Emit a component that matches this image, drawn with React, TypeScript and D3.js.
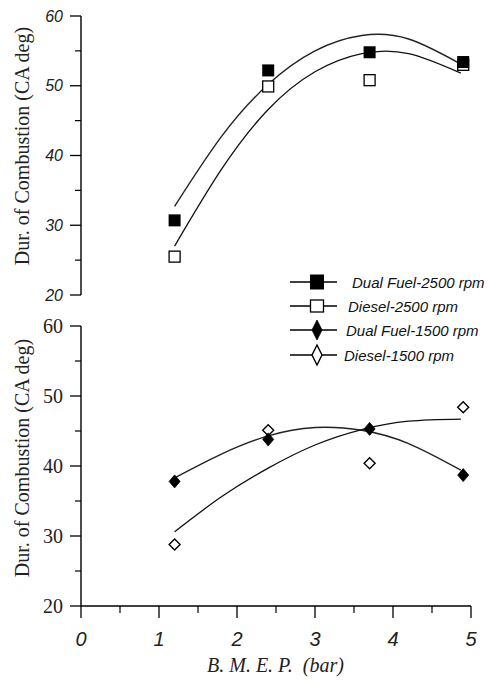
import React from "react";
import * as d3 from "d3";

const bmep = [1.2, 2.4, 3.7, 4.9];
const dualFuel2500 = [30.7, 52.2, 54.8, 53.4];
const diesel2500 = [25.5, 49.9, 50.8, 53.0];
const dualFuel1500 = [37.8, 43.8, 45.3, 38.7];
const diesel1500 = [28.8, 45.1, 40.4, 48.4];

// trend curves
const fitX = [1.2, 1.8, 2.4, 3.0, 3.6, 4.2, 4.87];
const fitDual2500 = [32.7, 42.7, 50.2, 55.0, 57.2, 56.7, 53.1];
const fitDiesel2500 = [27.0, 38.0, 46.6, 52.0, 54.6, 54.6, 51.8];
const fitDual1500 = [38.3, 41.7, 44.3, 45.5, 45.1, 43.2, 39.4];
const fitDiesel1500 = [30.6, 35.6, 39.7, 43.0, 45.2, 46.4, 46.7];

const xTicks = [0, 1, 2, 3, 4, 5];
const xMinor = [0.5, 1.5, 2.5, 3.5, 4.5];
const yTicks = [20, 30, 40, 50, 60];
const yMinor = [25, 35, 45, 55];
const legendLabels = ["Dual Fuel-2500 rpm", "Diesel-2500 rpm", "Dual Fuel-1500 rpm", "Diesel-1500 rpm"];

const W = 490, H = 684;
const SANS = "'Liberation Sans', Arial, sans-serif";
const SERIF = "'Liberation Serif', 'Times New Roman', serif";

const x = d3.scaleLinear().domain([0, 5]).range([81, 471]);
const yTop = d3.scaleLinear().domain([20, 60]).range([295, 16]);
const yBot = d3.scaleLinear().domain([20, 60]).range([606, 326]);

function Square({ cx, cy, s, filled, h }: any) {
  const hh = h ?? s;
  return (
    <rect x={cx - s / 2} y={cy - hh / 2} width={s} height={hh}
      fill={filled ? "#000" : "#fff"} stroke="#000" strokeWidth={filled ? 0 : 1.3} />
  );
}
function Diamond({ cx, cy, w, h, filled }: any) {
  const p = `M${cx},${cy - h / 2}L${cx + w / 2},${cy}L${cx},${cy + h / 2}L${cx - w / 2},${cy}Z`;
  return <path d={p} fill={filled ? "#000" : "#fff"} stroke="#000" strokeWidth={filled ? 0.8 : 1.4} />;
}

function YAxis({ y, font, size, italic }: any) {
  const [r0, r1] = y.range();
  return (
    <g>
      <line x1={81} x2={81} y1={r0} y2={r1} stroke="#000" strokeWidth={1.4} />
      {yTicks.map((t) => (
        <g key={t}>
          <line x1={70} x2={81} y1={y(t)} y2={y(t)} stroke="#000" strokeWidth={1.3} />
          <text x={63} y={y(t)} dy="0.35em" textAnchor="end" fontFamily={font}
            fontSize={size} fontStyle={italic ? "italic" : "normal"} fill="#222">{t}</text>
        </g>
      ))}
      {yMinor.map((t) => (
        <line key={t} x1={75} x2={81} y1={y(t)} y2={y(t)} stroke="#000" strokeWidth={1.2} />
      ))}
    </g>
  );
}

export default function App() {
  const line = (ys: number[], y: any) =>
    d3.line<number>().x((_, i) => x(fitX[i])).y((v) => y(v)).curve(d3.curveNatural)(ys) as string;

  const lx0 = 290, lx1 = 337, lm = 317;
  const legendY = [282, 306, 330, 355];
  const legendTx = [352, 348, 346, 344];

  return (
    <svg width={W} height={H} style={{ position: "absolute", left: 0, top: 0, background: "#fff" }}>
      <rect width={W} height={H} fill="#fff" />
      {/* top panel */}
      <YAxis y={yTop} font={SANS} size={16} italic />
      <text transform={`translate(29,146) rotate(-90)`} textAnchor="middle" fontFamily={SERIF}
        fontSize={20} fill="#222">Dur. of Combustion (CA deg)</text>
      <path d={line(fitDual2500, yTop)} fill="none" stroke="#222" strokeWidth={1.4} />
      <path d={line(fitDiesel2500, yTop)} fill="none" stroke="#111" strokeWidth={1.3} />
      {bmep.map((b, i) => <Square key={"d" + i} cx={x(b)} cy={yTop(diesel2500[i])} s={11} filled={false} />)}
      {bmep.map((b, i) => <Square key={"f" + i} cx={x(b)} cy={yTop(dualFuel2500[i])} s={12} filled />)}

      {/* bottom panel */}
      <YAxis y={yBot} font={SERIF} size={20} italic={false} />
      <text transform={`translate(29,458) rotate(-90)`} textAnchor="middle" fontFamily={SERIF}
        fontSize={20} fill="#222">Dur. of Combustion (CA deg)</text>
      <line x1={81} x2={471} y1={606} y2={606} stroke="#000" strokeWidth={1.4} />
      {xTicks.map((t) => (
        <g key={t}>
          <line x1={x(t)} x2={x(t)} y1={606} y2={618} stroke="#000" strokeWidth={1.3} />
          <text x={x(t)} y={646} textAnchor="middle" fontFamily={SANS} fontSize={20}
            fontStyle="italic" fill="#222">{t}</text>
        </g>
      ))}
      {xMinor.map((t) => (
        <line key={t} x1={x(t)} x2={x(t)} y1={606} y2={613} stroke="#000" strokeWidth={1.2} />
      ))}
      <text x={207} y={672} fontFamily={SERIF} fontSize={20} fontStyle="italic" fill="#222"
        style={{ whiteSpace: "pre" }}>{"B. M. E. P.  (bar)"}</text>
      <path d={line(fitDual1500, yBot)} fill="none" stroke="#222" strokeWidth={1.4} />
      <path d={line(fitDiesel1500, yBot)} fill="none" stroke="#111" strokeWidth={1.3} />
      {bmep.map((b, i) => <Diamond key={"od" + i} cx={x(b)} cy={yBot(diesel1500[i])} w={11} h={11} filled={false} />)}
      {bmep.map((b, i) => <Diamond key={"fd" + i} cx={x(b)} cy={yBot(dualFuel1500[i])} w={11} h={13} filled />)}

      {/* legend */}
      {legendY.map((ly, i) => (
        <g key={i}>
          <line x1={lx0} x2={lx1} y1={ly} y2={ly} stroke="#000" strokeWidth={1.3} />
          {i === 0 && <Square cx={lm} cy={ly} s={14} h={15} filled />}
          {i === 1 && <Square cx={lm} cy={ly} s={13} h={12} filled={false} />}
          {i === 2 && <Diamond cx={lm} cy={ly} w={10} h={20} filled />}
          {i === 3 && <Diamond cx={lm} cy={ly} w={10} h={20} filled={false} />}
          <text x={legendTx[i]} y={ly + 5.5} fontFamily={SANS} fontSize={15} fontStyle="italic"
            fill="#111">{legendLabels[i]}</text>
        </g>
      ))}
    </svg>
  );
}
